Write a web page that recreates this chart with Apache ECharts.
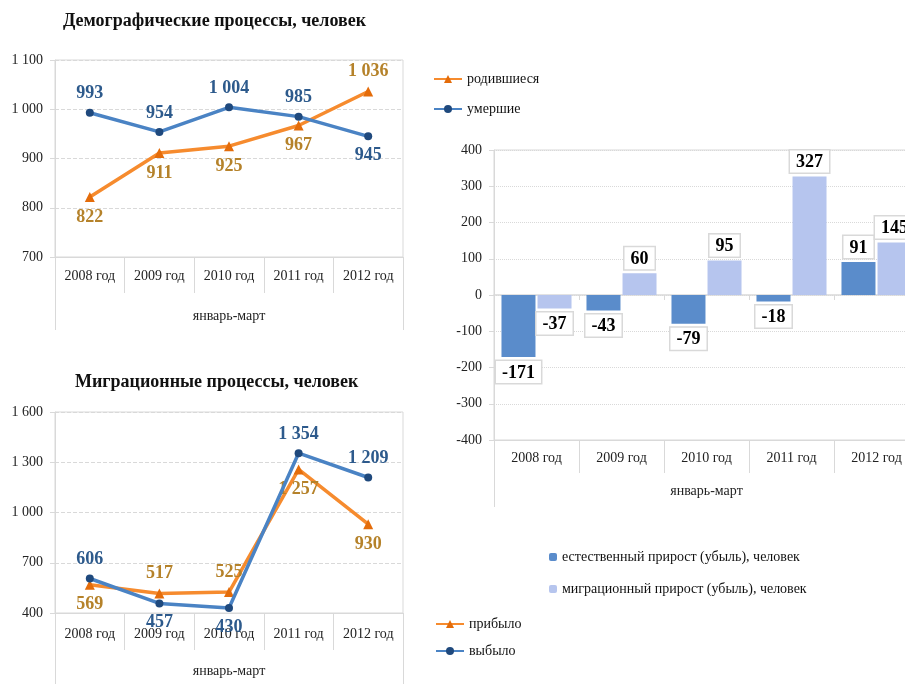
<!DOCTYPE html>
<html>
<head>
<meta charset="utf-8">
<script src="https://cdn.jsdelivr.net/npm/echarts@6/dist/echarts.min.js"></script>
<style>
  html, body { margin: 0; padding: 0; background: #fff; }
  #main { width: 905px; height: 684px; }
</style>
</head>
<body>
<div id="main"></div>
<script>
// data
var years = ['2008 год', '2009 год', '2010 год', '2011 год', '2012 год']
var period = ['январь-март']
var born = [822, 911, 925, 967, 1036]
var died = [993, 954, 1004, 985, 945]
var arrived = [569, 517, 525, 1257, 930]
var departed = [606, 457, 430, 1354, 1209]
var naturalGrowth = [-171, -43, -79, -18, 91]
var migrationGrowth = [-37, 60, 95, 327, 145]
var demoRange = [700, 1100, 100]
var migrRange = [400, 1600, 300]
var growthRange = [-400, 400, 100]

var FONT = 'Liberation Serif'
var ORANGE_LINE = '#F68B2E'
var ORANGE_MARK = '#E46C0A'
var ORANGE_TEXT = '#B5822A'
var BLUE_LINE = '#4A83C4'
var BLUE_MARK = '#1F497D'
var BLUE_TEXT = '#2D5A8C'
var GRAY = '#D9D9D9'

var fmt = function (v) {
  return String(v).replace(/\B(?=(\d{3})+(?!\d))/g, ' ')
}

// label above the point for the larger of two series, below for the smaller one
var pairItems = function (own, other) {
  return own.map(function (v, i) {
    return { value: v, label: { position: v >= other[i] ? 'top' : 'bottom' } }
  })
}

var catAxis = function (grid, margin, tickLen) {
  return {
    type: 'category',
    gridIndex: grid,
    data: years,
    position: 'bottom',
    axisLine: { onZero: false, lineStyle: { color: GRAY } },
    axisTick: { show: true, length: tickLen, lineStyle: { color: GRAY } },
    axisLabel: { color: '#222', fontFamily: FONT, fontSize: 14, margin: margin }
  }
}

var periodAxis = function (grid, offset, margin, tickLen) {
  return {
    type: 'category',
    gridIndex: grid,
    data: period,
    position: 'bottom',
    offset: offset,
    axisLine: { show: false, onZero: false },
    axisTick: { show: true, length: tickLen, lineStyle: { color: GRAY } },
    axisLabel: { color: '#222', fontFamily: FONT, fontSize: 14, margin: margin }
  }
}

var valAxis = function (grid, range, dash) {
  return {
    type: 'value',
    gridIndex: grid,
    min: range[0],
    max: range[1],
    interval: range[2],
    axisLine: { show: true, lineStyle: { color: GRAY } },
    axisTick: { show: true, length: 5, lineStyle: { color: GRAY } },
    axisLabel: { color: '#222', fontFamily: FONT, fontSize: 14, margin: 12, formatter: fmt },
    splitLine: { lineStyle: { color: GRAY, type: dash } }
  }
}

var lineSeries = function (name, xi, data, other, isBlue) {
  return {
    name: name,
    type: 'line',
    xAxisIndex: xi,
    yAxisIndex: xi === 0 ? 0 : 2,
    data: pairItems(data, other),
    symbol: isBlue ? 'circle' : 'triangle',
    symbolSize: isBlue ? 8 : 10,
    lineStyle: { width: 3.5, color: isBlue ? BLUE_LINE : ORANGE_LINE },
    itemStyle: { color: isBlue ? BLUE_MARK : ORANGE_MARK },
    label: {
      show: true,
      distance: 6,
      color: isBlue ? BLUE_TEXT : ORANGE_TEXT,
      fontFamily: FONT,
      fontSize: 18,
      fontWeight: 'bold',
      formatter: function (p) { return fmt(p.value) }
    },
    z: isBlue ? 3 : 2
  }
}

var barSeries = function (name, data, color) {
  return {
    name: name,
    type: 'bar',
    xAxisIndex: 2,
    yAxisIndex: 1,
    data: data,
    barWidth: 34,
    barGap: '6%',
    itemStyle: { color: color },
    label: {
      show: true,
      position: 'outside',
      distance: 4,
      color: '#000',
      fontFamily: FONT,
      fontSize: 18,
      fontWeight: 'bold',
      backgroundColor: '#fff',
      borderColor: GRAY,
      borderWidth: 1.5,
      padding: [3, 6, 1, 6]
    }
  }
}

var legendText = { color: '#111', fontFamily: FONT, fontSize: 14 }

var chart = echarts.init(document.getElementById('main'), null, { renderer: 'canvas' })
chart.setOption({
  animation: false,
  title: [{
    text: 'Демографические процессы, человек',
    left: 58,
    top: 7,
    textStyle: { fontFamily: FONT, fontSize: 18, fontWeight: 'bold', color: '#111' }
  }, {
    text: 'Миграционные процессы, человек',
    left: 70,
    top: 368,
    textStyle: { fontFamily: FONT, fontSize: 18, fontWeight: 'bold', color: '#111' }
  }],
  legend: [{
    data: ['родившиеся', 'умершие'],
    orient: 'vertical',
    left: 428,
    top: 67,
    itemGap: 16,
    itemWidth: 28,
    itemHeight: 10,
    textStyle: legendText
  }, {
    data: ['естественный прирост (убыль), человек', 'миграционный прирост (убыль), человек'],
    orient: 'vertical',
    left: 544,
    top: 545,
    itemGap: 18,
    itemWidth: 8,
    itemHeight: 8,
    textStyle: legendText
  }, {
    data: ['прибыло', 'выбыло'],
    orient: 'vertical',
    left: 430,
    top: 612,
    itemGap: 13,
    itemWidth: 28,
    itemHeight: 10,
    textStyle: legendText
  }],
  grid: [
    { left: 55, top: 60, right: 502, bottom: 427, outerBoundsMode: 'none', show: true, borderColor: GRAY, borderWidth: 1 },
    { left: 494, top: 150, width: 425, bottom: 244, outerBoundsMode: 'none', show: true, borderColor: GRAY, borderWidth: 1 },
    { left: 55, top: 412, right: 502, bottom: 71, outerBoundsMode: 'none', show: true, borderColor: GRAY, borderWidth: 1 }
  ],
  xAxis: [
    catAxis(0, 12, 36),
    catAxis(2, 14, 37),
    catAxis(1, 11, 33),
    periodAxis(0, 36, 16, 37),
    periodAxis(2, 37, 14, 40),
    periodAxis(1, 33, 11, 34),
    {
      type: 'category',
      gridIndex: 1,
      data: years,
      position: 'bottom',
      axisLine: { onZero: true, lineStyle: { color: GRAY, width: 1.5 } },
      axisTick: { show: true, length: 5, lineStyle: { color: GRAY } },
      axisLabel: { show: false }
    }
  ],
  yAxis: [
    valAxis(0, demoRange, 'dashed'),
    valAxis(1, growthRange, 'dotted'),
    valAxis(2, migrRange, 'dashed')
  ],
  series: [
    lineSeries('родившиеся', 0, born, died, false),
    lineSeries('умершие', 0, died, born, true),
    lineSeries('прибыло', 1, arrived, departed, false),
    lineSeries('выбыло', 1, departed, arrived, true),
    barSeries('естественный прирост (убыль), человек', naturalGrowth, '#5A8CCB'),
    barSeries('миграционный прирост (убыль), человек', migrationGrowth, '#B6C5EE')
  ]
})
</script>
</body>
</html>
